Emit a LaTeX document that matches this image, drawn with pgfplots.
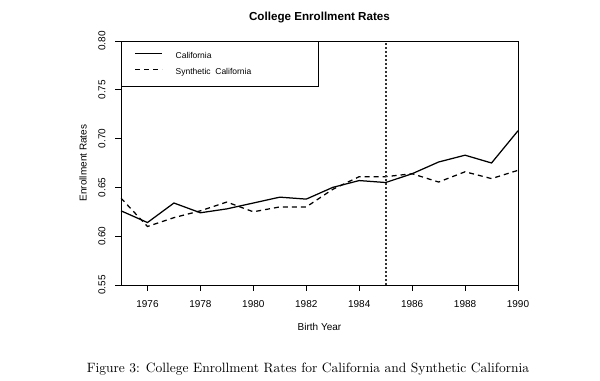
\documentclass[border=0pt]{standalone}
\usepackage{pgfplots}
\pgfplotsset{compat=1.18}
\usepackage{fontspec}
\setmainfont{Liberation Sans}
\newfontfamily\lmfont{Latin Modern Roman}
\begin{document}
\begin{tikzpicture}[x=0.8pt,y=0.8pt]
\path[use as bounding box] (-121,-96) rectangle (479,285);
\begin{axis}[
  at={(0,0)}, anchor=south west,
  scale only axis, width=317.6pt, height=195.2pt,
  xmin=1975, xmax=1990, ymin=0.55, ymax=0.80,
  xtick={1976,1978,...,1990},
  ytick={0.55,0.60,...,0.80},
  xtick pos=left, ytick pos=left,
  tick align=outside, major tick length=4.8pt,
  axis line style={line width=0.7pt},
  every tick/.style={black, line width=0.7pt},
  /pgf/number format/assume math mode=true,
  xticklabel shift=4pt, yticklabel shift=4pt,
  xticklabel style={font=\fontsize{8}{9}\selectfont, /pgf/number format/1000 sep={}},
  yticklabel style={font=\fontsize{8}{9}\selectfont, rotate=90, anchor=south,
    /pgf/number format/.cd, fixed, fixed zerofill, precision=2},
  title={\bfseries College Enrollment Rates},
  title style={font=\fontsize{9.3}{11}\selectfont, at={(0.5,1)}, anchor=base, yshift=10pt},
  xlabel={Birth Year},
  xlabel style={font=\fontsize{8}{9}\selectfont, at={(axis description cs:0.5,0)}, anchor=center, yshift=-33.6pt},
  ylabel={Enrollment Rates},
  ylabel style={font=\fontsize{8}{9}\selectfont, at={(axis description cs:0,0.5)}, anchor=center, yshift=30.4pt},
  legend style={at={(0,1)}, anchor=north west, draw=black, line width=0.7pt,
    font=\fontsize{6.8}{8}\selectfont, inner xsep=10.4pt, inner ysep=8.2pt,
    nodes={inner sep=0pt, text height=5.5pt, text depth=1.5pt},
    row sep=5.6pt,
    /tikz/every odd column/.append style={column sep=10.4pt}},
  legend cell align=left,
  legend image code/.code={\draw[#1] (0pt,2pt) -- (21.6pt,2pt);},
  clip=true,
]
\addplot[black, line width=1pt] coordinates {
(1975,0.626) (1976,0.614) (1977,0.634) (1978,0.624) (1979,0.628) (1980,0.634)
(1981,0.640) (1982,0.638) (1983,0.650) (1984,0.657) (1985,0.655) (1986,0.664)
(1987,0.676) (1988,0.683) (1989,0.675) (1990,0.708)};
\addlegendentry{\makebox[104pt][l]{California}}
\addplot[black, line width=1pt, dash pattern=on 4pt off 3.2pt] coordinates {
(1975,0.639) (1976,0.610) (1977,0.619) (1978,0.626) (1979,0.635) (1980,0.625)
(1981,0.630) (1982,0.630) (1983,0.648) (1984,0.661) (1985,0.661) (1986,0.664)
(1987,0.6555) (1988,0.666) (1989,0.659) (1990,0.6675)};
\addlegendentry{\makebox[104pt][l]{Synthetic\ \ California}}
\addplot[black!80, line width=1.5pt, dash pattern=on 1.4pt off 1.8pt, forget plot] coordinates {(1985,0.55) (1985,0.80)};
\end{axis}
\node[font=\lmfont\fontsize{10.8}{13}\selectfont] at (187,-84) {Figure 3: College Enrollment Rates for California and Synthetic California};
\end{tikzpicture}
\end{document}
